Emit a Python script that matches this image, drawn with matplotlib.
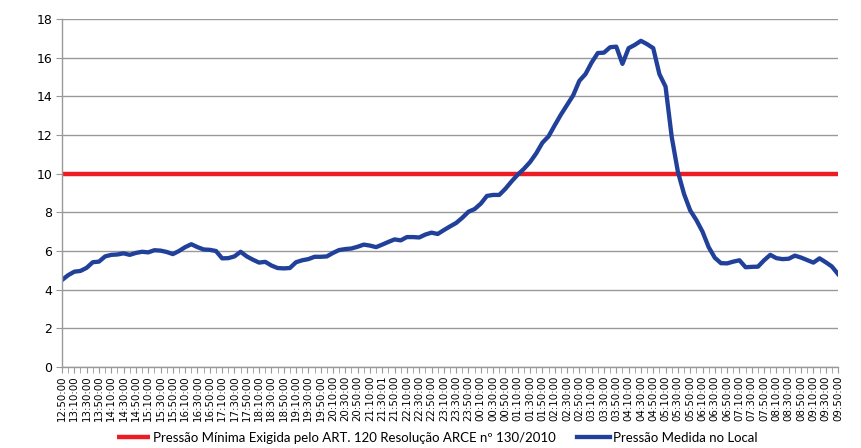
import numpy as np
import matplotlib
matplotlib.use('Agg')
import matplotlib.pyplot as plt
from matplotlib.ticker import MultipleLocator

# pressure read every 10 minutes, from 12:50:00 to 09:50:00
pressao_medida = [
    4.50, 4.75, 4.93, 4.97, 5.13, 5.42, 5.45, 5.72, 5.80, 5.82,
    5.88, 5.80, 5.90, 5.96, 5.93, 6.04, 6.02, 5.95, 5.84, 6.00,
    6.20, 6.35, 6.20, 6.08, 6.06, 6.00, 5.62, 5.63, 5.72, 5.96,
    5.72, 5.55, 5.40, 5.44, 5.25, 5.12, 5.10, 5.12, 5.42, 5.52,
    5.58, 5.70, 5.70, 5.72, 5.90, 6.05, 6.10, 6.13, 6.22, 6.33,
    6.28, 6.20, 6.33, 6.47, 6.60, 6.55, 6.72, 6.72, 6.70, 6.85,
    6.95, 6.88, 7.08, 7.27, 7.45, 7.72, 8.03, 8.17, 8.45, 8.85,
    8.90, 8.90, 9.22, 9.60, 9.95, 10.25, 10.60, 11.05, 11.60, 11.93,
    12.50, 13.05, 13.55, 14.05, 14.80, 15.15, 15.75, 16.24, 16.26, 16.54,
    16.57, 15.68, 16.49, 16.66, 16.87, 16.70, 16.49, 15.15, 14.50, 11.90,
    10.10, 8.95, 8.10, 7.60, 7.00, 6.20, 5.65, 5.37, 5.36, 5.45,
    5.52, 5.16, 5.18, 5.19, 5.52, 5.80, 5.63, 5.58, 5.60, 5.76,
    5.66, 5.53, 5.40, 5.62, 5.42, 5.20, 4.81,
]
pressao_minima = 10

# labels every 20 minutes (every 2nd reading)
rotulos = [
    '12:50:00', '13:10:00', '13:30:00', '13:50:00', '14:10:00', '14:30:00',
    '14:50:00', '15:10:00', '15:30:00', '15:50:00', '16:10:00', '16:30:00',
    '16:50:00', '17:10:00', '17:30:00', '17:50:00', '18:10:00', '18:30:00',
    '18:50:00', '19:10:00', '19:30:00', '19:50:00', '20:10:00', '20:30:00',
    '20:50:00', '21:10:00', '21:30:01', '21:50:00', '22:10:00', '22:30:00',
    '22:50:00', '23:10:00', '23:30:00', '23:50:00', '00:10:00', '00:30:00',
    '00:50:00', '01:10:00', '01:30:00', '01:50:00', '02:10:00', '02:30:00',
    '02:50:00', '03:10:00', '03:30:00', '03:50:00', '04:10:00', '04:30:00',
    '04:50:00', '05:10:00', '05:30:00', '05:50:00', '06:10:00', '06:30:00',
    '06:50:00', '07:10:00', '07:30:00', '07:50:00', '08:10:00', '08:30:00',
    '08:50:00', '09:10:00', '09:30:00', '09:50:00',
]

leg_min = 'Pressão Mínima Exigida pelo ART. 120 Resolução ARCE nº 130/2010'
leg_med = 'Pressão Medida no Local'

x = np.arange(len(pressao_medida))

fig = plt.figure(figsize=(8.61, 4.48), dpi=100)
ax = fig.add_axes([62/861, 81/448, 776/861, 348/448])

l1, = ax.plot(x, [pressao_minima]*len(x), color='#ed1c24', lw=3.2, solid_capstyle='butt')
l2, = ax.plot(x, pressao_medida, color='#21409a', lw=3.1, solid_joinstyle='round')

ax.set_xlim(0, len(x) - 1)
ax.set_ylim(0, 18)
ax.yaxis.set_major_locator(MultipleLocator(2))
ax.grid(axis='y', color='#999999', lw=1.0)
ax.set_axisbelow(True)

ax.set_xticks(x[::2])
ax.set_xticklabels(rotulos, rotation=90, fontsize=7.4, family='DejaVu Sans')
ax.set_xticks(x, minor=True)
ax.tick_params(axis='x', which='both', direction='out', length=4, color='#999999', pad=2)
ax.tick_params(axis='y', direction='out', length=4, color='#999999', labelsize=9, pad=3)

for s in ['top', 'right']:
    ax.spines[s].set_visible(False)
for s in ['left', 'bottom']:
    ax.spines[s].set_color('#999999')
    ax.spines[s].set_linewidth(1.0)

fig.legend([l1, l2], [leg_min, leg_med], loc='lower center', ncol=2,
           bbox_to_anchor=(0.508, -0.017), frameon=False,
           prop={'family': 'Lato', 'size': 9.5}, handlelength=2.5, columnspacing=1.6,
           handletextpad=0.25)

fig.savefig('out.png', dpi=100)
